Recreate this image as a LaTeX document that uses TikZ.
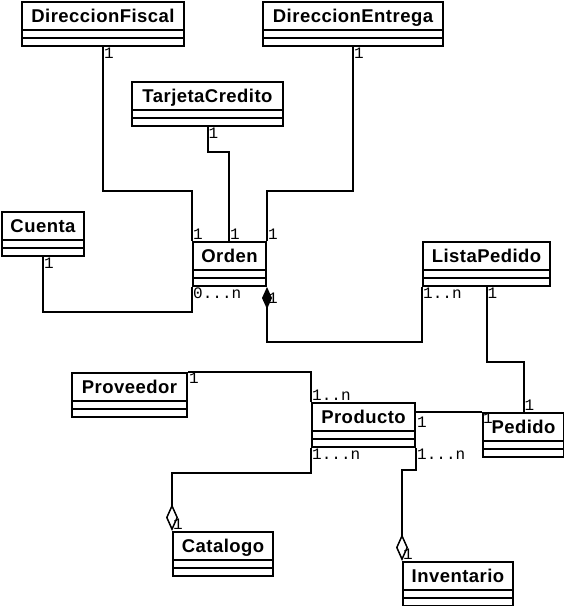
\documentclass[tikz,border=0pt]{standalone}
\usepackage{fontspec}
\setsansfont{Liberation Sans}[LetterSpace=2.5]
\setmonofont{Liberation Mono}
\usepackage{tikz}
\usetikzlibrary{arrows.meta,calc}
\definecolor{umlline}{RGB}{0,0,0}
\newcommand{\clsfont}{\fontsize{18.5}{20}\selectfont\sffamily\bfseries}
\newcommand{\mulfont}{\fontsize{16}{17}\selectfont\ttfamily}
\tikzset{
  cls/.style ={draw=umlline, line width=2pt, anchor=north west, inner xsep=0pt, inner ysep=0pt,
               text height=20pt, text depth=24pt, font=\clsfont,
               path picture={
                 \draw[umlline, line width=2pt] ([yshift=-28pt]path picture bounding box.north west) -- ([yshift=-28pt]path picture bounding box.north east);
                 \draw[umlline, line width=2pt] ([yshift=-36pt]path picture bounding box.north west) -- ([yshift=-36pt]path picture bounding box.north east);
               }},
  lnk/.style ={draw=umlline, line width=2pt, line join=miter},
  mul/.style ={font=\mulfont, inner sep=1pt},
  agg/.style ={lnk, -{Diamond[fill=white, length=27pt, width=12pt, line width=1.5pt]}},
  cmp/.style ={lnk, {Diamond[fill=umlline, length=22pt, width=10pt]}-},
}

\begin{document}
\begin{tikzpicture}[x=1pt, y=-1pt]
  \useasboundingbox (0,0) rectangle (564,606);
  % classes
  \node[cls, minimum width=162pt] (dfis) at (21,1)   {DireccionFiscal};
  \node[cls, minimum width=180pt] (dent) at (262,1)  {DireccionEntrega};
  \node[cls, minimum width=151pt] (tcre) at (131,81) {TarjetaCredito};
  \node[cls, minimum width=82pt]  (cuen) at (1,211)  {Cuenta};
  \node[cls, minimum width=73pt]  (orde) at (192,241) {Orden};
  \node[cls, minimum width=127pt] (lped) at (422,241) {ListaPedido};
  \node[cls, minimum width=115pt] (prov) at (71,372) {Proveedor};
  \node[cls, minimum width=103pt] (prod) at (311,402) {Producto};
  \node[cls, minimum width=81pt]  (pedi) at (482,412) {Pedido};
  \node[cls, minimum width=100pt] (cata) at (172,531) {Catalogo};
  \node[cls, minimum width=110pt] (inve) at (402,561) {Inventario};
  % associations
  \draw[lnk] (dfis.south) -- ++(0,144) -| (orde.north west);
  \draw[lnk] (tcre.south) -- ++(0,25) -| ($(orde.north west)+(37,0)$);
  \draw[lnk] (dent.south) -- ++(0,144) -| (orde.north east);
  \draw[lnk] (cuen.south) -- ++(0,55) -| (orde.south west);
  \draw[cmp] (orde.south east) -- ++(0,55) -| (lped.south west);
  \draw[lnk] (lped.south) -- ++(0,75) -| (pedi.north);
  \draw[lnk] (pedi.north west) -- (prod.east |- pedi.north west);
  \draw[lnk] (prov.north east) -| (prod.north west);
  \draw[agg] (prod.south west) -- ++(0,25) -| (cata.north west);
  \draw[agg] (prod.south east) -- ++(0,22) -| (inve.north west);
  % multiplicities
  \node[mul, anchor=north west] at (dfis.south) {1};
  \node[mul, anchor=north west] at (tcre.south) {1};
  \node[mul, anchor=north west] at (dent.south) {1};
  \node[mul, anchor=south west] at (orde.north west) {1};
  \node[mul, anchor=south west] at ($(orde.north west)+(37,0)$) {1};
  \node[mul, anchor=south west] at (orde.north east) {1};
  \node[mul, anchor=north west] at (cuen.south) {1};
  \node[mul, anchor=north west] at (orde.south west) {0...n};
  \node[mul, anchor=north west] at ($(orde.south east)+(0,5)$) {1};
  \node[mul, anchor=north west] at (lped.south west) {1..n};
  \node[mul, anchor=north west] at (lped.south) {1};
  \node[mul, anchor=south west] at (pedi.north) {1};
  \node[mul, anchor=north west] at ($(prod.east |- pedi.north west)+(0,4)$) {1};
  \node[mul, anchor=north west] at (pedi.north west) {1};
  \node[mul, anchor=north west] at (prov.north east) {1};
  \node[mul, anchor=south west] at (prod.north west) {1..n};
  \node[mul, anchor=north west] at (prod.south west) {1...n};
  \node[mul, anchor=north west] at (prod.south east) {1...n};
  \node[mul, anchor=south west] at (cata.north west) {1};
  \node[mul, anchor=south west] at (inve.north west) {1};
\end{tikzpicture}
\end{document}
